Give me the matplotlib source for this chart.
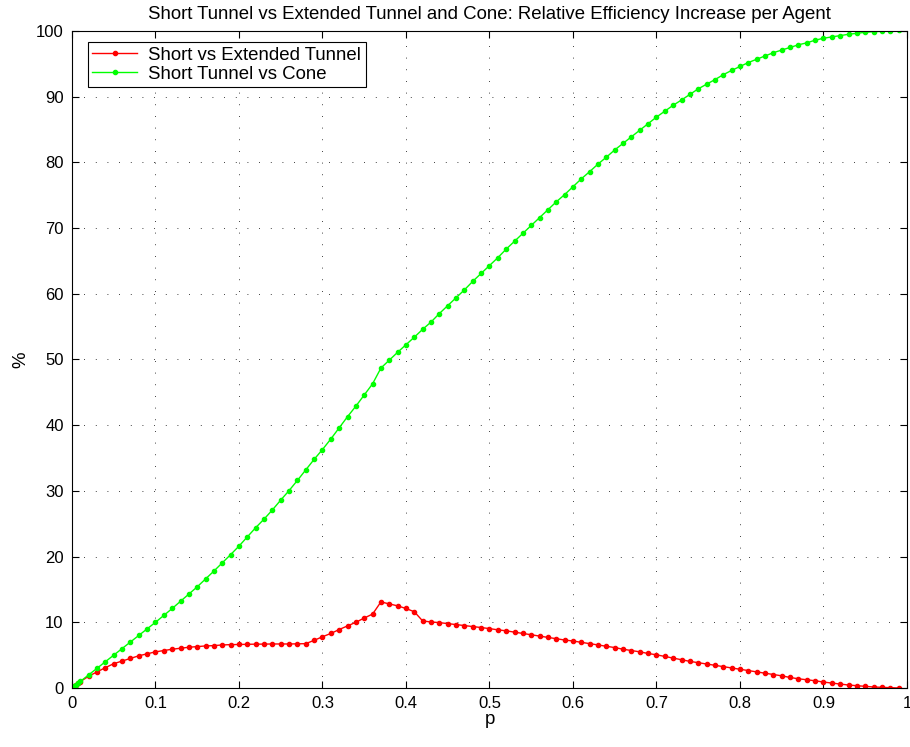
import numpy as np
import matplotlib
matplotlib.use("Agg")
import matplotlib.pyplot as plt

# sampling points: a few fine steps near zero, then every 0.01
p = [0.0, 0.0025, 0.005, 0.0075] + [round(0.01 * i, 2) for i in range(1, 100)]

short_vs_extended = [
    0.0, 0.25, 0.5, 0.73,
    0.97, 1.8, 2.45, 3.1, 3.7, 4.1, 4.5, 4.9, 5.2, 5.5,
    5.7, 5.9, 6.05, 6.2, 6.3, 6.4, 6.45, 6.55, 6.6, 6.62,
    6.65, 6.67, 6.68, 6.7, 6.7, 6.7, 6.72, 6.75, 7.25, 7.8,
    8.3, 8.9, 9.45, 10.0, 10.65, 11.25, 13.1, 12.8, 12.5, 12.1,
    11.6, 10.2, 10.05, 9.95, 9.8, 9.65, 9.5, 9.35, 9.2, 9.04,
    8.85, 8.7, 8.5, 8.3, 8.1, 7.9, 7.7, 7.5, 7.3, 7.15,
    6.95, 6.75, 6.55, 6.35, 6.15, 5.9, 5.7, 5.5, 5.25, 5.05,
    4.8, 4.55, 4.3, 4.05, 3.85, 3.65, 3.45, 3.25, 3.05, 2.85,
    2.65, 2.45, 2.25, 2.05, 1.85, 1.6, 1.4, 1.25, 1.1, 0.9,
    0.75, 0.6, 0.45, 0.35, 0.25, 0.15, 0.1, 0.05, 0.0,
]

short_vs_cone = [
    0.0, 0.25, 0.5, 0.75,
    1.0, 2.0, 3.0, 4.0, 5.0, 6.0, 7.0, 8.0, 9.0, 10.0,
    11.05, 12.1, 13.2, 14.3, 15.4, 16.6, 17.8, 19.05, 20.3, 21.6,
    23.0, 24.4, 25.7, 27.1, 28.6, 30.05, 31.6, 33.2, 34.8, 36.3,
    37.9, 39.6, 41.3, 42.9, 44.6, 46.3, 48.7, 49.9, 51.1, 52.25,
    53.4, 54.6, 55.7, 57.0, 58.2, 59.4, 60.6, 61.9, 63.1, 64.3,
    65.5, 66.8, 68.0, 69.2, 70.4, 71.6, 72.8, 74.0, 75.1, 76.3,
    77.5, 78.6, 79.75, 80.8, 81.9, 82.9, 83.9, 84.9, 85.9, 86.9,
    87.8, 88.7, 89.5, 90.35, 91.2, 91.9, 92.6, 93.35, 94.0, 94.6,
    95.2, 95.7, 96.2, 96.7, 97.1, 97.5, 97.9, 98.2, 98.6, 98.9,
    99.1, 99.3, 99.5, 99.65, 99.8, 99.9, 99.95, 100.0, 100.2,
]

x_ticks = [0, 0.1, 0.2, 0.3, 0.4, 0.5, 0.6, 0.7, 0.8, 0.9, 1]
x_tick_labels = ["0", "0.1", "0.2", "0.3", "0.4", "0.5", "0.6", "0.7", "0.8", "0.9", "1"]
y_ticks = list(range(0, 101, 10))

plt.rcParams['font.family'] = ['Liberation Sans', 'DejaVu Sans']
fs = 13.4

fig = plt.figure(figsize=(9.1, 7.47), dpi=100)
ax = fig.add_axes([0.0791, 0.079, 0.9176, 0.8795])

ax.plot(p, short_vs_extended, color='#ff0000', marker='.', markersize=6, linewidth=1,
        label='Short vs Extended Tunnel')
ax.plot(p, short_vs_cone, color='#00ff00', marker='.', markersize=6, linewidth=1,
        label='Short Tunnel vs Cone')

ax.set_xlim(0, 1)
ax.set_ylim(0, 100)
ax.set_xticks(x_ticks)
ax.set_xticklabels(x_tick_labels)
ax.set_yticks(y_ticks)
ax.tick_params(direction='in', length=5, width=0.8, top=True, right=True,
               labelsize=12, pad=6, colors='black')
ax.grid(True, color='black', linestyle=(0, (1, 13)), linewidth=0.6)
for s in ax.spines.values():
    s.set_linewidth(0.8)

ax.set_xlabel('p', fontsize=fs, labelpad=0)
ax.set_ylabel('%', fontsize=fs, labelpad=5)
ax.set_title('Short Tunnel vs Extended Tunnel and Cone: Relative Efficiency Increase per Agent',
             fontsize=fs, pad=9)

leg = ax.legend(loc='upper left', bbox_to_anchor=(0.019, 0.983), borderaxespad=0,
                fontsize=fs, fancybox=False, framealpha=1, edgecolor='black',
                handlelength=2.4, labelspacing=0.1, borderpad=0.25, handletextpad=0.6)
leg.get_frame().set_linewidth(0.8)

fig.savefig('out.png', dpi=100)
